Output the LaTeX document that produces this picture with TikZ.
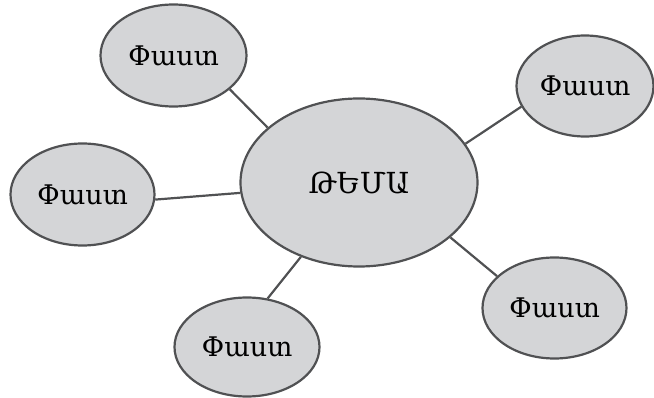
\documentclass[tikz,border=0pt]{standalone}
\usepackage{fontspec}
\newfontfamily\armfont{DejaVu Serif}
\usepackage{tikz}
\usetikzlibrary{shapes}
\definecolor{bubfill}{HTML}{D4D5D7}
\definecolor{bubline}{HTML}{505153}
\newcommand{\FACT}{Փաստ}

\begin{document}
\begin{tikzpicture}[x=1pt, y=-1pt,
  bubble/.style={ellipse, draw=bubline, fill=bubfill, line width=2.2pt, inner sep=0pt, font=\armfont\fontsize{27}{30}\selectfont},
  link/.style={draw=bubline, line width=2.2pt}]

  \useasboundingbox (0,0) rectangle (654,398);

  \node[bubble, minimum width=237, minimum height=168, font=\armfont\fontsize{29}{32}\selectfont] (Th) at (359,182.5) {ԹԵՄԱ};

  \node[bubble, minimum width=146, minimum height=102] (f1) at (173.5,55.5) {\FACT};
  \node[bubble, minimum width=144, minimum height=102] (f2) at (82.5,194.5) {\FACT};
  \node[bubble, minimum width=145, minimum height=99] (f3) at (247,347) {\FACT};
  \node[bubble, minimum width=137, minimum height=101] (f4) at (585,86) {\FACT};
  \node[bubble, minimum width=144, minimum height=101] (f5) at (554.5,308) {\FACT};

  \draw[link] (f1.-31) -- (Th.149); %% top left
  \draw[link] (f2.-4) -- (Th.185); %% left
  \draw[link] (f3.67) -- (Th.232); %% bottom
  \draw[link] (f4.198) -- (Th.20); %% top right
  \draw[link] (f5.151) -- (Th.-31); %% bottom right
\end{tikzpicture}
\end{document}
